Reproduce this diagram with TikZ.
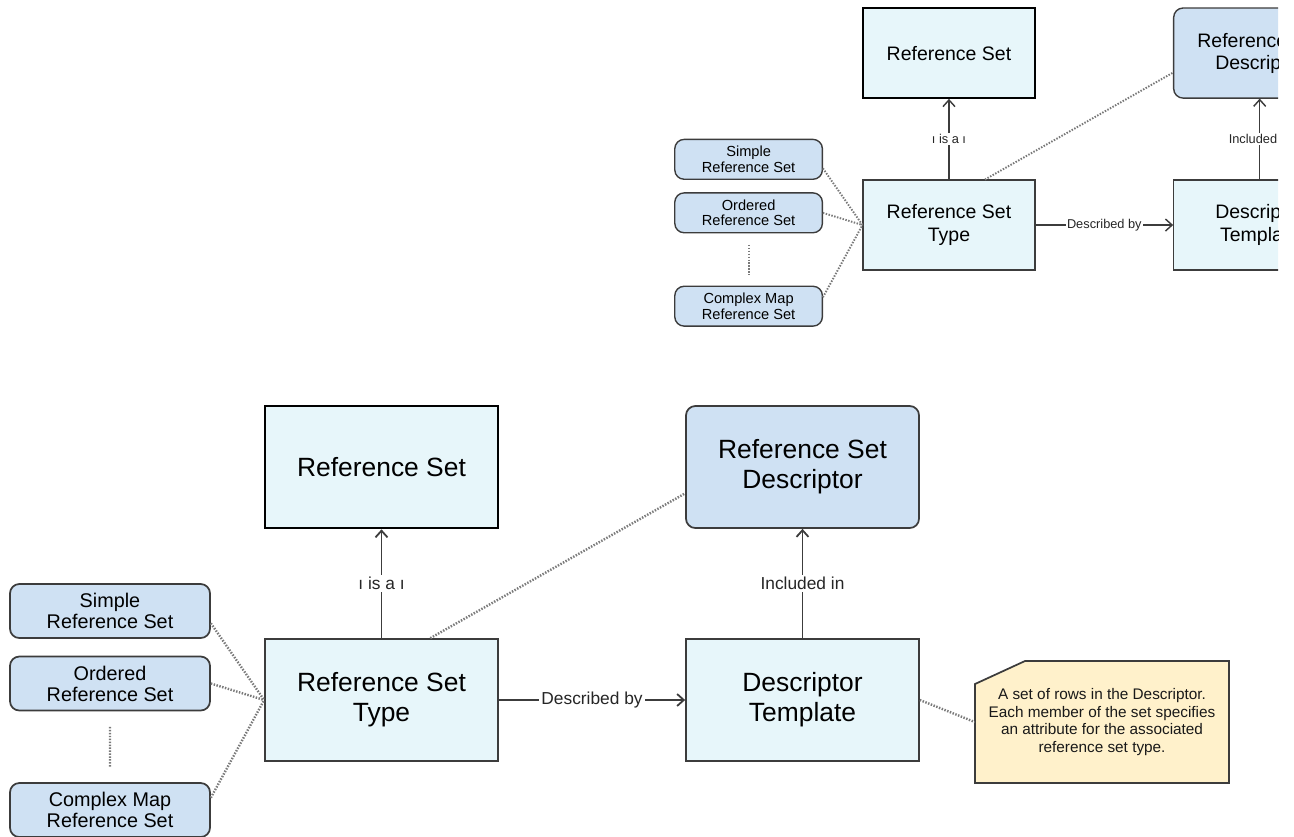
\documentclass[tikz,border=0pt]{standalone}
\usepackage{fontspec}
\setmainfont{Liberation Sans}
\usetikzlibrary{arrows.meta,calc}
\definecolor{boxcyan}{HTML}{E7F6FA}
\definecolor{boxblue}{HTML}{CFE1F3}
\definecolor{notefill}{HTML}{FFF1CB}
\definecolor{edgegray}{HTML}{3C3C3C}
\definecolor{dotgray}{HTML}{7A7A7A}
\def\lwf{1}
\tikzset{
  refbox/.style={draw=black, line width={2pt*\lwf}, fill=boxcyan, align=center,
    minimum width=174.75pt, minimum height=91.5pt, inner sep=0pt,
    font=\fontsize{19.8}{22.5}\selectfont},
  bigbox/.style={draw=edgegray, line width={1.3pt*\lwf}, fill=boxcyan, align=center,
    minimum width=174.75pt, minimum height=91.5pt, inner sep=0pt,
    font=\fontsize{19.8}{22.5}\selectfont},
  descbox/.style={bigbox, fill=boxblue, rounded corners=7pt},
  subbox/.style={draw=edgegray, line width={1.3pt*\lwf}, fill=boxblue, rounded corners=7pt,
    align=center, minimum width=150pt, minimum height=40.5pt, inner sep=0pt,
    font=\fontsize{14.85}{15.75}\selectfont},
  relation/.style={draw=edgegray, line width={1.35pt*\lwf}, -{Straight Barb[length=5pt,width=9pt]}},
  rellabel/.style={fill=white, inner sep=1.5pt, text=black!85,
    font=\fontsize{13}{15}\selectfont},
  dotline/.style={draw=dotgray, line width={1.8pt*\lwf}, dash pattern=on 1.1pt off 1.1pt},
  noteshape/.style={fill=notefill, draw=edgegray, line width={1.3pt*\lwf}},
  notetext/.style={align=center, inner sep=0pt, minimum width=190.5pt, minimum height=91.5pt,
    text=black!90, font=\fontsize{11.5}{13.3}\selectfont},
}
\newcommand\drawdiagram[1]{%
  \node[refbox] (#1rs) at (381.5,467) {Reference Set};
  \node[descbox] (#1rsd) at (802.5,467) {Reference Set\\Descriptor};
  \node[bigbox] (#1rst) at (381.5,700) {Reference Set\\Type};
  \node[bigbox] (#1dt) at (802.5,700) {Descriptor\\Template};
  \node[subbox] (#1srs) at (110,611) {Simple\\Reference Set};
  \node[subbox] (#1ors) at (110,683.5) {Ordered\\Reference Set};
  \node[subbox] (#1cmrs) at (110,810) {Complex Map\\Reference Set};
  \filldraw[noteshape] (975,684) -- (1025,661) -- (1229,661) -- (1229,783) -- (975,783) -- cycle;
  \node[notetext] (#1note) at (1102,722) {A set of rows in the Descriptor.\\Each member of the set specifies\\an attribute for the associated\\reference set type.};
  % relations
  \draw[relation] (#1rst.north) -- node[rellabel] {ı is a ı} (#1rs.south);
  \draw[relation] (#1dt.north) -- node[rellabel] {Included in} (#1rsd.south);
  \draw[relation] (#1rst.east) -- node[rellabel] {Described by} (#1dt.west);
  % dotted links
  \coordinate (#1rstA) at ($(#1rst.north west)!0.708!(#1rst.north east)$);
  \coordinate (#1rsdA) at ($(#1rsd.north west)!0.713!(#1rsd.south west)$);
  \draw[dotline] (#1rstA) -- (#1rsdA);
  \coordinate (#1srsA) at ($(#1srs.north east)!0.72!(#1srs.south east)$);
  \coordinate (#1cmrsA) at ($(#1cmrs.north east)!0.28!(#1cmrs.south east)$);
  \draw[dotline] (#1srsA) -- (#1rst.west);
  \draw[dotline] (#1ors.east) -- (#1rst.west);
  \draw[dotline] (#1cmrsA) -- (#1rst.west);
  \coordinate (#1gapA) at ($(#1ors.south)!0.22!(#1cmrs.north)$);
  \coordinate (#1gapB) at ($(#1ors.south)!0.79!(#1cmrs.north)$);
  \draw[dotline] (#1gapA) -- (#1gapB);
  \draw[dotline] (#1dt.east) -- (#1note.west);
}
\begin{document}
\begin{tikzpicture}[x=0.75pt,y=-0.75pt]
\useasboundingbox (0,0) rectangle (1294,836);
\clip (0,0) rectangle (1294,836);
\drawdiagram{L}
\begin{scope}
  \clip (0,0) rectangle (1278,400);
  \def\lwf{0.8}
  \begin{scope}[shift={(667.4,-291.6)}, scale=0.738, transform shape]
    \drawdiagram{S}
  \end{scope}
\end{scope}
\end{tikzpicture}
\end{document}
